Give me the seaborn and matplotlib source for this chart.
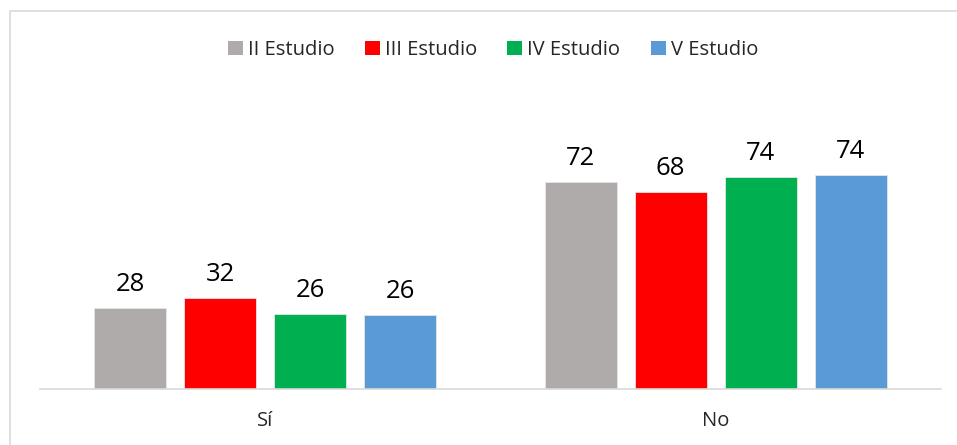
import matplotlib
matplotlib.use("Agg")
import matplotlib.pyplot as plt
import seaborn as sns
import pandas as pd
from matplotlib.patches import Rectangle

# ------------------------------------------------
# DATA
# ------------------------------------------------

categories = ["Sí", "No"]
studies = ["II Estudio", "III Estudio", "IV Estudio", "V Estudio"]

ii_estudio = [28.1, 72.0]
iii_estudio = [31.6, 68.4]
iv_estudio = [26.2, 73.8]
v_estudio = [25.6, 74.4]

colors = ["#AFABAB", "#FF0000", "#00B050", "#5B9BD5"]

# ------------------------------------------------
# LONG FORMAT
# ------------------------------------------------

rows = []
for study, values in zip(studies, [ii_estudio, iii_estudio, iv_estudio, v_estudio]):
    for cat, val in zip(categories, values):
        rows.append({"categoria": cat, "estudio": study, "valor": val})
df = pd.DataFrame(rows)

# ------------------------------------------------
# PLOT
# ------------------------------------------------

sns.set_style("white")
plt.rcParams["font.family"] = ["Open Sans", "DejaVu Sans"]

W, H = 957, 445
fig = plt.figure(figsize=(W / 100, H / 100), dpi=100)

ax = fig.add_axes([40 / W, (H - 389) / H, (941 - 40) / W, (389 - 159) / H])

sns.barplot(
    data=df, x="categoria", y="valor", hue="estudio",
    order=categories, hue_order=studies, palette=colors,
    width=0.8, gap=0.2, saturation=1, edgecolor="#E6E6E6", linewidth=0.6,
    ax=ax, legend=True,
)

for cont in ax.containers:
    ax.bar_label(cont, fmt="%.0f", padding=8, fontsize=18.5, color="#000000")

ax.set_ylim(0, 80)
ax.set_xlim(-0.5, 1.5)
ax.set_xlabel("")
ax.set_ylabel("")
ax.set_yticks([])
ax.tick_params(axis="x", length=0, labelsize=14.5, pad=16)

for side in ["left", "right", "top"]:
    ax.spines[side].set_visible(False)
ax.spines["bottom"].set_color("#D9D9D9")
ax.spines["bottom"].set_linewidth(1.2)

leg = ax.legend(
    loc="center", bbox_to_anchor=(493 / W, (H - 50) / H),
    bbox_transform=fig.transFigure, ncol=4, frameon=False,
    fontsize=14.5, handlelength=0.75, handleheight=0.75,
    handletextpad=0.25, columnspacing=1.5,
)
for h in leg.legend_handles:
    h.set_edgecolor("none")

# chart border (right and bottom fall outside the crop)
fig.patches.append(Rectangle(
    (10 / W, -0.1), 1.2, (H - 11) / H + 0.1,
    transform=fig.transFigure, fill=False,
    edgecolor="#D9D9D9", linewidth=1.2,
))

fig.savefig("out.png", dpi=100)
